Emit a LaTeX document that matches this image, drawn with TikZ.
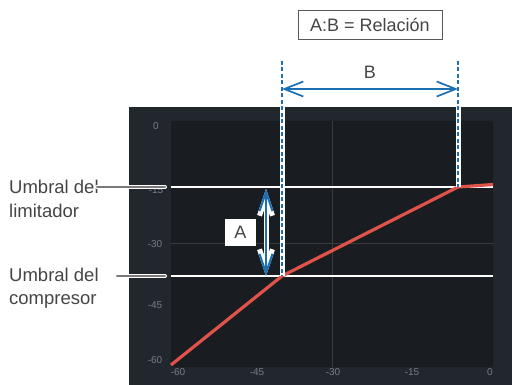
\documentclass[tikz,border=0pt]{standalone}
\usepackage{fontspec}
\setmainfont{Liberation Sans}
\usepackage{xcolor}
\usepackage{tikz}
\usetikzlibrary{arrows.meta}
\definecolor{Ink}{HTML}{454545}
\definecolor{Panel}{HTML}{22272E}
\definecolor{Plot}{HTML}{191C20}
\definecolor{Grid}{HTML}{3A3B3E}
\definecolor{Tick}{HTML}{787E86}
\definecolor{Curve}{HTML}{E0534A}
\definecolor{Marker}{HTML}{1B6FB3}
\definecolor{Lead}{HTML}{7A7A7A}

\begin{document}
\begin{tikzpicture}[x=1pt,y=-1pt,
  tick/.style={Tick,font=\fontsize{10}{11}\selectfont,inner sep=0pt},
  caption/.style={Ink,font=\fontsize{18.5}{24}\selectfont,align=left,inner sep=0pt,anchor=base west},
  guide/.style={Marker,line width=1.3pt,dash pattern=on 4pt off 2.5pt},
  halo/.style={white,line width=5pt},
  spanarrow/.style={arrows={Straight Barb[length=19pt,width=15pt]-Straight Barb[length=19pt,width=15pt]}},
  riserarrow/.style={arrows={Straight Barb[length=19pt,width=13pt]-Straight Barb[length=19pt,width=13pt]}}]
  \useasboundingbox (0,0) rectangle (512,385);
  \fill[Panel] (129,107) rectangle (512,385);
  \fill[Plot,rounded corners=2pt] (171,121) rectangle (493,367);
  \draw[Grid,line width=1pt] (332,121) -- (332,367);
  \draw[Grid,line width=1pt] (171,244) -- (493,244);
  \node[tick] (y0) at (156,126) {0};
  \node[tick] (y15) at (156,190) {-15};
  \node[tick] (y30) at (155,244) {-30};
  \node[tick] (y45) at (155,305) {-45};
  \node[tick] (y60) at (155,360) {-60};
  \node[tick] (x60) at (178,372) {-60};
  \node[tick] (x45) at (257,372) {-45};
  \node[tick] (x30) at (333,372) {-30};
  \node[tick] (x15) at (412,372) {-15};
  \node[tick] (x0) at (490,372) {0};
  \coordinate (start) at (171,365);
  \coordinate (comp) at (282,276);
  \coordinate (lim) at (458,187);
  \coordinate (end) at (493,184.5);
  \coordinate (compL) at (171,276);
  \coordinate (compR) at (493,276);
  \coordinate (limL) at (171,187);
  \coordinate (limR) at (493,187);
  \coordinate (compKnob) at (165,276);
  \coordinate (limKnob) at (165,187);
  \coordinate (compIn) at (282,107);
  \coordinate (limIn) at (458,107);
  \coordinate (compTop) at (282,61);
  \coordinate (limTop) at (458,61);
  \coordinate (bL) at (282,89);
  \coordinate (bR) at (458,89);
  \coordinate (aT) at (266,189);
  \coordinate (aB) at (266,276);
  \coordinate (limFrom) at (97,187);
  \coordinate (compFrom) at (117,276);
  \draw[white,line width=1.6pt] (limL) -- (limR);
  \draw[white,line width=1.6pt] (compL) -- (compR);
  \draw[Curve,line width=3.2pt,line join=round] (start) -- (comp) -- (lim) -- (end);
  \draw[halo] (compIn) -- (comp);
  \draw[halo] (limIn) -- (lim);
  \draw[guide] (compTop) -- (comp);
  \draw[guide] (limTop) -- (lim);
  \draw[Marker,line width=1.7pt,spanarrow] (bL) -- (bR);
  \node[Ink,font=\fontsize{18}{20}\selectfont] (B) at (370,72) {B};
  \draw[white,line width=5pt,riserarrow] (aT) -- (aB);
  \draw[Marker,line width=2pt,riserarrow] (aT) -- (aB);
  \node[fill=white,minimum width=31pt,minimum height=27pt,inner sep=0pt,
    text=Ink,font=\fontsize{18}{20}\selectfont] (A) at (240.5,232.5) {A};
  \node[draw=Ink!90,line width=0.8pt,minimum width=144pt,minimum height=29pt,
    inner sep=0pt,text=Ink,font=\fontsize{18}{20}\selectfont] (ratio) at (370,24.5) {A:B = Relación};
  \node[caption] (limlabel) at (9,218) {Umbral del\\limitador};
  \node[caption] (complabel) at (9,305) {Umbral del\\compresor};
  \draw[white,line width=4pt,line cap=round] (limFrom) -- (limKnob);
  \draw[Lead,line width=2pt,line cap=round] (limFrom) -- (limKnob);
  \draw[white,line width=4pt,line cap=round] (compFrom) -- (compKnob);
  \draw[Lead,line width=2pt,line cap=round] (compFrom) -- (compKnob);
\end{tikzpicture}
\end{document}
